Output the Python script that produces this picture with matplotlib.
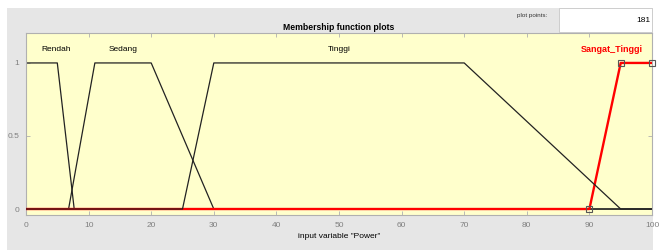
import matplotlib
matplotlib.use("Agg")
import matplotlib.pyplot as plt
import numpy as np

plt.rcParams["font.family"] = ["Liberation Sans", "DejaVu Sans"]

# membership functions (trapezoids) of input "Power"
mf_names = ["Rendah", "Sedang", "Tinggi", "Sangat_Tinggi"]
mf_params = {
    "Rendah": [0, 0, 5, 7.7],
    "Sedang": [6.8, 11, 20, 30],
    "Tinggi": [25, 30, 70, 95],
    "Sangat_Tinggi": [90, 95, 100, 100],
}
label_x = [4.8, 15.5, 50, 93.6]
x_range = [0, 100]
plot_points = 181


def trapmf(x, p):
    a, b, c, d = p
    y = np.zeros_like(x)
    for i, v in enumerate(x):
        if b <= v <= c:
            y[i] = 1.0
        elif a < v < b:
            y[i] = (v - a) / (b - a)
        elif c < v < d:
            y[i] = (d - v) / (d - c)
    return y


x = np.linspace(x_range[0], x_range[1], plot_points)
x = np.unique(np.concatenate([x, [p for ps in mf_params.values() for p in ps]]))

fig = plt.figure(figsize=(6.62, 2.5), dpi=100)
fig.patch.set_facecolor("white")

# gray panel and "plot points" box
fig.patches.append(plt.Rectangle((7 / 662, 0), 646 / 662, 242 / 250,
                                 transform=fig.transFigure, facecolor="#e6e6e6",
                                 edgecolor="none", zorder=-2))
fig.patches.append(plt.Rectangle((559 / 662, 218 / 250), 93 / 662, 24 / 250,
                                 transform=fig.transFigure, facecolor="white",
                                 edgecolor="#c8c8c8", linewidth=0.6, zorder=-1))
fig.text(532 / 662, 234 / 250, "plot points:", fontsize=4.5, ha="center", va="center", color="#333333")
fig.text(650 / 662, 230 / 250, str(plot_points), fontsize=6, ha="right", va="center", color="black")

ax = fig.add_axes([26 / 662, 35 / 250, 626 / 662, 182 / 250])
ax.set_zorder(2)
ax.set_facecolor("#ffffcc")
ax.set_xlim(0, 100)
ax.set_ylim(-0.041, 1.205)

# draw order: Rendah, Sedang, Sangat_Tinggi (selected, red), Tinggi on top
for name in ["Rendah", "Sedang"]:
    ax.plot(x, trapmf(x, mf_params[name]), color="#222222", linewidth=0.9)
sel = mf_params["Sangat_Tinggi"]
ax.plot(x, trapmf(x, sel), color="red", linewidth=1.7, zorder=3)
ax.plot(x, trapmf(x, mf_params["Tinggi"]), color="#222222", linewidth=0.9, zorder=4)
mx = [sel[0], sel[1], sel[2]]
ax.plot(mx, trapmf(np.array(mx, dtype=float), sel), linestyle="none", marker="s",
        markersize=5, markerfacecolor="none", markeredgecolor="#555555",
        markeredgewidth=0.8, zorder=5, clip_on=False)

for name, lx in zip(mf_names, label_x):
    if name == "Sangat_Tinggi":
        ax.text(lx, 1.09, name, color="red", fontsize=6.5, fontweight="bold", ha="center", va="center")
    else:
        ax.text(lx, 1.09, name, color="black", fontsize=6, ha="center", va="center")

ax.set_xticks(np.arange(0, 101, 10))
ax.set_yticks([0, 0.5, 1])
ax.set_yticklabels(["0", "0.5", "1"])
ax.tick_params(direction="in", length=3, width=0.6, colors="#b0b0b0",
               labelcolor="#808080", labelsize=6, top=True, right=True, pad=5)
for s in ax.spines.values():
    s.set_color("#b0b0b0")
    s.set_linewidth(0.8)

ax.set_title("Membership function plots", fontsize=6.2, fontweight="bold", pad=2)
ax.set_xlabel('input variable "Power"', fontsize=6, labelpad=3)

fig.savefig("out.png", dpi=100, facecolor=fig.get_facecolor())
